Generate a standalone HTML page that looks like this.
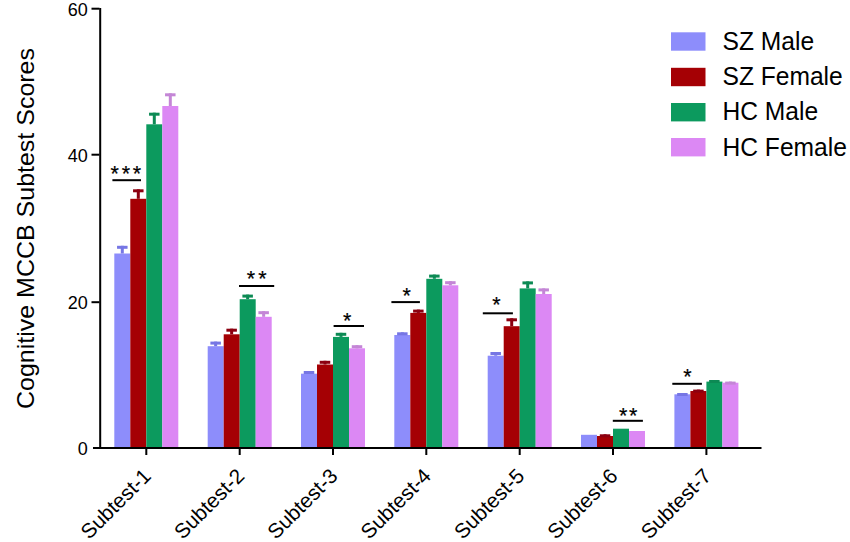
<!DOCTYPE html>
<html><head><meta charset="utf-8"><style>
html,body{margin:0;padding:0;background:#fff;}
svg{display:block;}
text{font-family:"Liberation Sans",sans-serif;fill:#000;}
.yt{font-size:18px;}
.xt{font-size:20.8px;}
.st{font-size:21.5px;stroke:#000;stroke-width:0.2px;}
.yl{font-size:24.5px;}
.lg{font-size:24.6px;}
</style></head><body>
<svg width="850" height="542" viewBox="0 0 850 542">
<rect width="850" height="542" fill="#fff"/>
<rect x="114.3" y="253.5" width="16" height="194.5" fill="#8d8dfb"/>
<rect x="120.80" y="245.8" width="3" height="7.7" fill="#7676e4"/>
<rect x="117.05" y="245.8" width="10.5" height="3" fill="#7676e4"/>
<rect x="130.3" y="198.8" width="16" height="249.2" fill="#a50004"/>
<rect x="136.80" y="189.3" width="3" height="9.5" fill="#8c0010"/>
<rect x="133.05" y="189.3" width="10.5" height="3" fill="#8c0010"/>
<rect x="146.3" y="124.3" width="16" height="323.7" fill="#0c9a5e"/>
<rect x="152.80" y="112.7" width="3" height="11.6" fill="#0c8a54"/>
<rect x="149.05" y="112.7" width="10.5" height="3" fill="#0c8a54"/>
<rect x="162.3" y="106.0" width="16" height="342.0" fill="#dc88f4"/>
<rect x="168.80" y="93.3" width="3" height="12.7" fill="#c486d6"/>
<rect x="165.05" y="93.3" width="10.5" height="3" fill="#c486d6"/>
<rect x="207.7" y="346.2" width="16" height="101.8" fill="#8d8dfb"/>
<rect x="214.15" y="341.6" width="3" height="4.6" fill="#7676e4"/>
<rect x="210.40" y="341.6" width="10.5" height="3" fill="#7676e4"/>
<rect x="223.7" y="334.3" width="16" height="113.7" fill="#a50004"/>
<rect x="230.15" y="328.7" width="3" height="5.6" fill="#8c0010"/>
<rect x="226.40" y="328.7" width="10.5" height="3" fill="#8c0010"/>
<rect x="239.7" y="299.2" width="16" height="148.8" fill="#0c9a5e"/>
<rect x="246.15" y="294.6" width="3" height="4.6" fill="#0c8a54"/>
<rect x="242.40" y="294.6" width="10.5" height="3" fill="#0c8a54"/>
<rect x="255.7" y="316.8" width="16" height="131.2" fill="#dc88f4"/>
<rect x="262.15" y="311.2" width="3" height="5.6" fill="#c486d6"/>
<rect x="258.40" y="311.2" width="10.5" height="3" fill="#c486d6"/>
<rect x="301.0" y="373.7" width="16" height="74.3" fill="#8d8dfb"/>
<rect x="307.50" y="371.0" width="3" height="2.7" fill="#7676e4"/>
<rect x="303.75" y="371.0" width="10.5" height="3" fill="#7676e4"/>
<rect x="317.0" y="364.5" width="16" height="83.5" fill="#a50004"/>
<rect x="323.50" y="360.8" width="3" height="3.7" fill="#8c0010"/>
<rect x="319.75" y="360.8" width="10.5" height="3" fill="#8c0010"/>
<rect x="333.0" y="336.9" width="16" height="111.1" fill="#0c9a5e"/>
<rect x="339.50" y="332.8" width="3" height="4.1" fill="#0c8a54"/>
<rect x="335.75" y="332.8" width="10.5" height="3" fill="#0c8a54"/>
<rect x="349.0" y="348.3" width="16" height="99.7" fill="#dc88f4"/>
<rect x="355.50" y="345.2" width="3" height="3.1" fill="#c486d6"/>
<rect x="351.75" y="345.2" width="10.5" height="3" fill="#c486d6"/>
<rect x="394.3" y="335.0" width="16" height="113.0" fill="#8d8dfb"/>
<rect x="400.85" y="332.3" width="3" height="2.7" fill="#7676e4"/>
<rect x="397.10" y="332.3" width="10.5" height="3" fill="#7676e4"/>
<rect x="410.3" y="312.9" width="16" height="135.1" fill="#a50004"/>
<rect x="416.85" y="309.6" width="3" height="3.3" fill="#8c0010"/>
<rect x="413.10" y="309.6" width="10.5" height="3" fill="#8c0010"/>
<rect x="426.3" y="278.8" width="16" height="169.2" fill="#0c9a5e"/>
<rect x="432.85" y="274.6" width="3" height="4.2" fill="#0c8a54"/>
<rect x="429.10" y="274.6" width="10.5" height="3" fill="#0c8a54"/>
<rect x="442.3" y="285.3" width="16" height="162.7" fill="#dc88f4"/>
<rect x="448.85" y="281.2" width="3" height="4.1" fill="#c486d6"/>
<rect x="445.10" y="281.2" width="10.5" height="3" fill="#c486d6"/>
<rect x="487.7" y="355.7" width="16" height="92.3" fill="#8d8dfb"/>
<rect x="494.20" y="352.0" width="3" height="3.7" fill="#7676e4"/>
<rect x="490.45" y="352.0" width="10.5" height="3" fill="#7676e4"/>
<rect x="503.7" y="326.2" width="16" height="121.8" fill="#a50004"/>
<rect x="510.20" y="318.3" width="3" height="7.9" fill="#8c0010"/>
<rect x="506.45" y="318.3" width="10.5" height="3" fill="#8c0010"/>
<rect x="519.7" y="288.4" width="16" height="159.6" fill="#0c9a5e"/>
<rect x="526.20" y="281.4" width="3" height="7.0" fill="#0c8a54"/>
<rect x="522.45" y="281.4" width="10.5" height="3" fill="#0c8a54"/>
<rect x="535.7" y="294.0" width="16" height="154.0" fill="#dc88f4"/>
<rect x="542.20" y="288.4" width="3" height="5.6" fill="#c486d6"/>
<rect x="538.45" y="288.4" width="10.5" height="3" fill="#c486d6"/>
<rect x="581.0" y="434.8" width="16" height="13.2" fill="#8d8dfb"/>
<rect x="597.0" y="436.0" width="16" height="12.0" fill="#a50004"/>
<rect x="603.55" y="434.3" width="3" height="1.7" fill="#8c0010"/>
<rect x="599.80" y="434.3" width="10.5" height="3" fill="#8c0010"/>
<rect x="613.0" y="428.7" width="16" height="19.3" fill="#0c9a5e"/>
<rect x="629.0" y="431.0" width="16" height="17.0" fill="#dc88f4"/>
<rect x="674.4" y="394.3" width="16" height="53.7" fill="#8d8dfb"/>
<rect x="680.90" y="393.0" width="3" height="1.3" fill="#7676e4"/>
<rect x="677.15" y="393.0" width="10.5" height="3" fill="#7676e4"/>
<rect x="690.4" y="391.0" width="16" height="57.0" fill="#a50004"/>
<rect x="696.90" y="389.6" width="3" height="1.4" fill="#8c0010"/>
<rect x="693.15" y="389.6" width="10.5" height="3" fill="#8c0010"/>
<rect x="706.4" y="381.6" width="16" height="66.4" fill="#0c9a5e"/>
<rect x="712.90" y="380.0" width="3" height="1.6" fill="#0c8a54"/>
<rect x="709.15" y="380.0" width="10.5" height="3" fill="#0c8a54"/>
<rect x="722.4" y="382.7" width="16" height="65.3" fill="#dc88f4"/>
<rect x="728.90" y="381.6" width="3" height="1.1" fill="#c486d6"/>
<rect x="725.15" y="381.6" width="10.5" height="3" fill="#c486d6"/>
<rect x="99.2" y="8" width="2" height="441" fill="#000"/>
<rect x="93" y="447" width="668.5" height="2" fill="#000"/>
<rect x="91.5" y="7.7" width="8" height="2" fill="#000"/>
<text x="87.8" y="15.7" text-anchor="end" class="yt">60</text>
<rect x="91.5" y="153.7" width="8" height="2" fill="#000"/>
<text x="87.8" y="161.7" text-anchor="end" class="yt">40</text>
<rect x="91.5" y="301.2" width="8" height="2" fill="#000"/>
<text x="87.8" y="309.2" text-anchor="end" class="yt">20</text>
<text x="87.8" y="455.0" text-anchor="end" class="yt">0</text>
<rect x="145.3" y="448" width="2" height="7" fill="#000"/>
<rect x="238.7" y="448" width="2" height="7" fill="#000"/>
<rect x="332.0" y="448" width="2" height="7" fill="#000"/>
<rect x="425.3" y="448" width="2" height="7" fill="#000"/>
<rect x="518.7" y="448" width="2" height="7" fill="#000"/>
<rect x="612.0" y="448" width="2" height="7" fill="#000"/>
<rect x="705.4" y="448" width="2" height="7" fill="#000"/>
<text class="xt" text-anchor="end" transform="translate(152.3,477.2) rotate(-45)">Subtest-1</text>
<text class="xt" text-anchor="end" transform="translate(245.7,477.2) rotate(-45)">Subtest-2</text>
<text class="xt" text-anchor="end" transform="translate(339.0,477.2) rotate(-45)">Subtest-3</text>
<text class="xt" text-anchor="end" transform="translate(432.3,477.2) rotate(-45)">Subtest-4</text>
<text class="xt" text-anchor="end" transform="translate(525.7,477.2) rotate(-45)">Subtest-5</text>
<text class="xt" text-anchor="end" transform="translate(619.0,477.2) rotate(-45)">Subtest-6</text>
<text class="xt" text-anchor="end" transform="translate(712.4,477.2) rotate(-45)">Subtest-7</text>
<rect x="112.4" y="179.2" width="28.6" height="2" fill="#000"/>
<text class="st" x="114.8" y="180.6" text-anchor="middle">*</text>
<text class="st" x="125.9" y="180.6" text-anchor="middle">*</text>
<text class="st" x="137.0" y="180.6" text-anchor="middle">*</text>
<rect x="239.0" y="285.0" width="35.2" height="2" fill="#000"/>
<text class="st" x="250.9" y="286.4" text-anchor="middle">*</text>
<text class="st" x="262.5" y="286.4" text-anchor="middle">*</text>
<rect x="333.6" y="325.0" width="30.4" height="2" fill="#000"/>
<text class="st" x="347.3" y="328.4" text-anchor="middle">*</text>
<rect x="391.4" y="301.1" width="28.5" height="2" fill="#000"/>
<text class="st" x="406.7" y="302.5" text-anchor="middle">*</text>
<rect x="482.8" y="312.3" width="30.1" height="2" fill="#000"/>
<text class="st" x="496.5" y="312.0" text-anchor="middle">*</text>
<rect x="612.8" y="419.8" width="30.1" height="2" fill="#000"/>
<text class="st" x="623.1" y="422.9" text-anchor="middle">*</text>
<text class="st" x="633.1" y="422.9" text-anchor="middle">*</text>
<rect x="672.3" y="382.8" width="29.6" height="2" fill="#000"/>
<text class="st" x="687.4" y="384.4" text-anchor="middle">*</text>
<text class="yl" textLength="361" lengthAdjust="spacingAndGlyphs" transform="translate(33.8,409) rotate(-90)">Cognitive MCCB Subtest Scores</text>
<rect x="671" y="32.3" width="34.5" height="18.4" fill="#8d8dfb"/>
<text class="lg" transform="translate(722.5,50.1) scale(1,1.07)">SZ Male</text>
<rect x="671" y="67.8" width="34.5" height="18.4" fill="#a50004"/>
<text class="lg" transform="translate(722.5,85.0) scale(1,1.07)">SZ Female</text>
<rect x="671" y="103.0" width="34.5" height="18.4" fill="#0c9a5e"/>
<text class="lg" transform="translate(722.5,120.2) scale(1,1.07)">HC Male</text>
<rect x="671" y="138.0" width="34.5" height="18.4" fill="#dc88f4"/>
<text class="lg" transform="translate(722.5,155.5) scale(1,1.07)">HC Female</text>
</svg>
</body></html>
